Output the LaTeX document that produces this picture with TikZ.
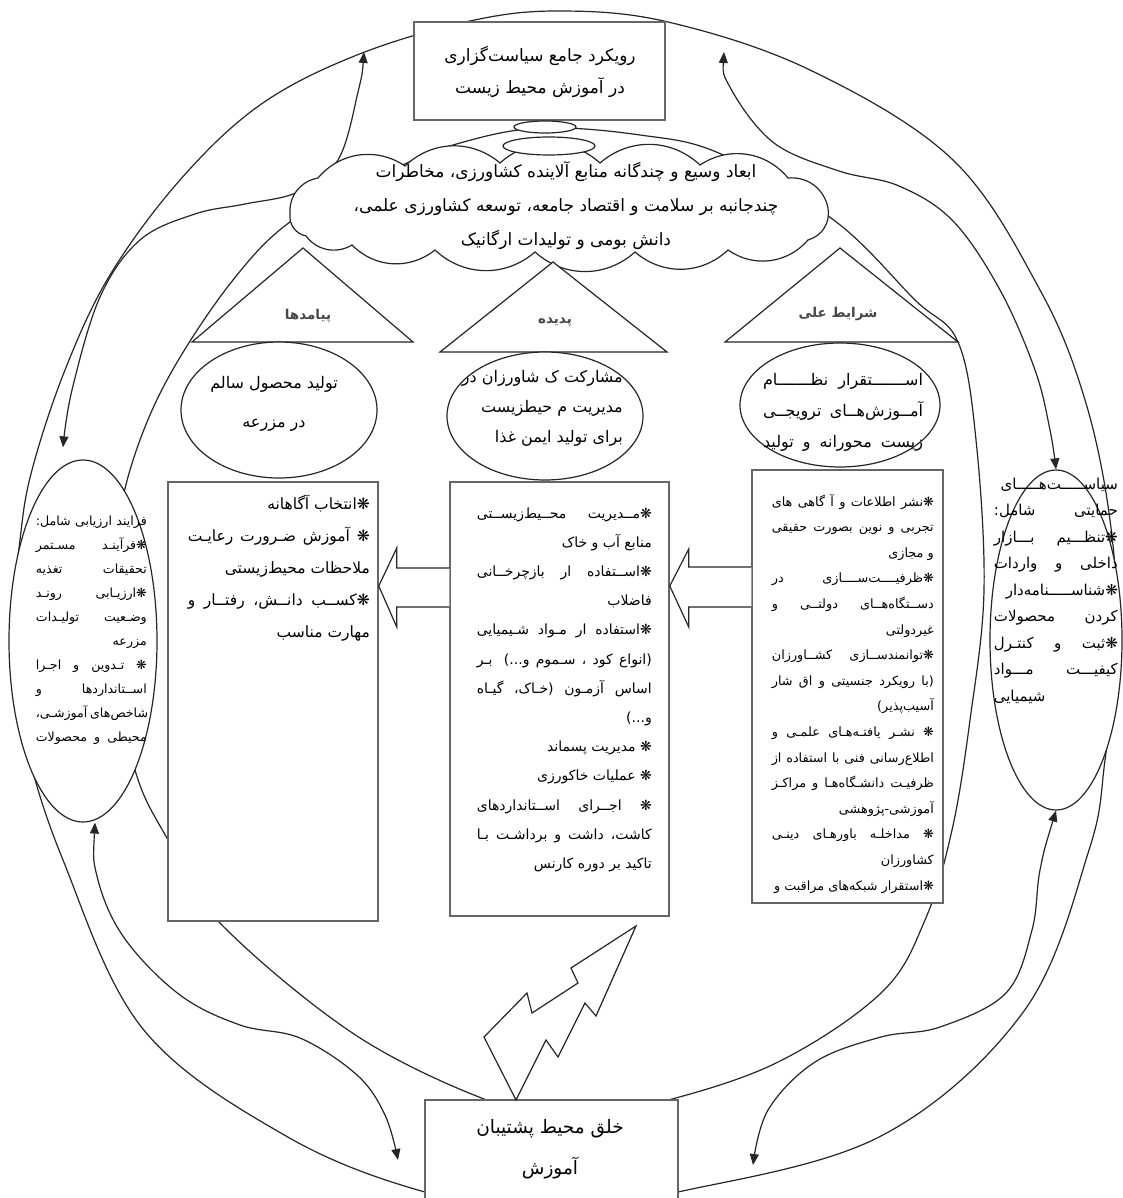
\documentclass[tikz,border=0pt]{standalone}
\usepackage{fontspec}
\usetikzlibrary{shapes.geometric,arrows.meta,calc}
\newfontfamily\arabicfont[Script=Arabic]{DejaVu Sans}
\TeXXeTstate=1
\newcommand\blk[2]{\vtop{\hsize=#1\relax\parindent=0pt\relax #2}}
\newcommand\JL[1]{\hbox to \hsize{\hskip 0pt plus 0.01pt\relax\beginR #1\endR}}
\newcommand\RL[1]{\hbox to \hsize{\hfil\beginR #1\endR}}
\newcommand\CL[1]{\hbox to \hsize{\hfil\beginR #1\endR\hfil}}
\newcommand\LL[1]{\hbox to \hsize{\beginR #1\endR\hfil}}
\newcommand\fsz[2]{\arabicfont\fontsize{#1pt}{#2pt}\selectfont}
\pgfdeclarelayer{bg}
\pgfsetlayers{bg,main}
\begin{document}
\begin{tikzpicture}[x=1pt,y=-1pt,
  ln/.style={draw=black!85,line width=1.2pt},
  bx/.style={draw=black!60,line width=1.5pt,fill=white,rectangle,inner sep=0pt},
  ov/.style={draw=black!85,line width=1.2pt,fill=white,ellipse,inner sep=0pt},
  tx/.style={inner sep=0pt},
  puff/.style={bend left=42},
  dbl/.style={draw=black!85,line width=1.2pt,{Triangle[width=9pt,length=11pt]}-{Triangle[width=9pt,length=11pt]}},
  lab/.style={inner sep=0pt,text=black!72,font=\arabicfont\bfseries\fontsize{13.5pt}{15pt}\selectfont}
]
\useasboundingbox (0,0) rectangle (1123,1198);

% ---------- top ----------
\node[bx,minimum width=251pt,minimum height=98pt] (topbox) at (539.5,71) {};
\node[tx,anchor=base,font=\fsz{17}{32}] (toptxt) at (540,62)
  {\blk{250pt}{\CL{رویکرد جامع سیاست‌گزاری}\CL{در آموزش محیط زیست}}};

% cloud (drawn as a puffy outline)
\draw[ln,fill=white] (290,214) to[puff] (318,178) to[puff] (405,166) to[puff] (500,163)
  to[puff] (600,163) to[puff] (700,165) to[puff] (788,178) to[puff] (828,208)
  to[puff] (808,240) to[puff] (728,250) to[puff] (635,252) to[puff] (535,252)
  to[puff] (435,250) to[puff] (352,245) to[puff] (306,236) to[puff] (290,214);
\coordinate (cloud) at (556,207);
\node[ov,minimum width=92pt,minimum height=18pt] (ovB) at (549,146) {};
\node[ov,minimum width=62pt,minimum height=12pt] (ovA) at (545,127) {};
\node[tx,anchor=base,font=\fsz{17}{34}] (cloudtxt) at (566,178)
  {\blk{470pt}{\CL{ابعاد وسیع و چندگانه منابع آلاینده کشاورزی، مخاطرات}
               \CL{چندجانبه بر سلامت و اقتصاد جامعه، توسعه کشاورزی علمی،}
               \CL{دانش بومی و تولیدات ارگانیک}}};

% ---------- triangles ----------
\draw[ln,fill=white] (192,342) -- (413,342) -- (303,248) -- cycle;
\draw[ln,fill=white] (440,352) -- (667,352) -- (553,262) -- cycle;
\draw[ln,fill=white] (725,342) -- (958,342) -- (840,248) -- cycle;
\node[lab] (labL) at (308,316) {\beginR پیامدها\endR};
\node[lab] (labM) at (555,322) {\beginR پدیده\endR};
\node[lab] (labR) at (838,314) {\beginR شرایط علی\endR};

% ---------- small ellipses ----------
\node[ov,minimum width=196pt,minimum height=136pt] (eL) at (279,410) {};
\node[tx,anchor=base,font=\fsz{16}{39}] (eLtxt) at (274,388)
  {\blk{180pt}{\CL{تولید محصول سالم}\CL{در مزرعه}}};
\node[ov,minimum width=196pt,minimum height=128pt] (eM) at (545,416) {};
\node[tx,anchor=base east,font=\fsz{16}{30}] (eMtxt) at (623,382)
  {\blk{170pt}{\RL{مشارکت ک شاورزان در}\RL{مدیریت م حیطزیست}\RL{برای تولید ایمن غذا}}};
\node[ov,minimum width=200pt,minimum height=124pt] (eR) at (840,405) {};
\node[tx,anchor=base,font=\fsz{16}{31}] (eRtxt) at (843,385)
  {\blk{160pt}{\JL{اســـــــتقرار نظـــــــام}\JL{آمــوزش‌هــای ترویجــی}\JL{زیست محورانه و تولید}}};

% ---------- boxes ----------
\node[bx,minimum width=210pt,minimum height=439pt] (lbox) at (273,701.5) {};
\node[bx,minimum width=219pt,minimum height=434pt] (mbox) at (559.5,699) {};
\node[bx,minimum width=191pt,minimum height=433pt] (rbox) at (847.5,686.5) {};

\node[tx,anchor=base east,font=\fsz{15.5}{32}] (lboxtxt) at (370,509)
  {\blk{182pt}{\RL{❋انتخاب آگاهانه}
               \JL{❋ آموزش ضـرورت رعایـت}
               \RL{ملاحظات محیط‌زیستی}
               \JL{❋کســب دانــش، رفتــار و}
               \RL{مهارت مناسب}}};
\node[tx,anchor=base east,font=\fsz{14}{29.2}] (mboxtxt) at (652,518)
  {\blk{175pt}{\JL{❋مــدیریت محــیط‌زیســتی}
               \RL{منابع آب و خاک}
               \JL{❋اســتفاده ار بازچرخــانی}
               \RL{فاضلاب}
               \JL{❋استفاده ار مـواد شـیمیایی}
               \JL{(انواع کود ، سـموم و...) بـر}
               \JL{اساس آزمـون (خـاک، گیـاه}
               \RL{و...)}
               \RL{❋ مدیریت پسماند}
               \RL{❋ عملیات خاکورزی}
               \JL{❋ اجــرای اســتانداردهای}
               \JL{کاشت، داشت و برداشـت بـا}
               \RL{تاکید بر دوره کارنس}}};
\node[tx,anchor=base east,font=\fsz{12.8}{25.6}] (rboxtxt) at (934,506)
  {\blk{162pt}{\JL{❋نشر اطلاعات و آ گاهی های}
               \JL{تجربی و نوین بصورت حقیقی}
               \RL{و مجازی}
               \JL{❋ظرفیــــت‌ســــازی در}
               \JL{دســتگاه‌هــای دولتــی و}
               \RL{غیردولتی}
               \JL{❋توانمندســازی کشــاورزان}
               \JL{(با رویکرد جنسیتی و اق شار}
               \RL{آسیب‌پذیر)}
               \JL{❋ نشـر یافتـه‌هـای علمـی و}
               \JL{اطلاع‌رسانی فنی با استفاده از}
               \JL{ظرفیـت دانشـگاه‌هـا و مراکـز}
               \RL{آموزشی-پژوهشی}
               \JL{❋ مداخلـه باورهـای دینـی}
               \RL{کشاورزان}
               \RL{❋استقرار شبکه‌های مراقبت و}}};

% ---------- side ellipses ----------
\node[ov,minimum width=148pt,minimum height=362pt] (lell) at (83,641) {};
\node[tx,anchor=base east,font=\fsz{12.6}{24}] (lelltxt) at (147,525)
  {\blk{111pt}{\JL{فرایند ارزیابی شامل:}
               \JL{❋فرآینـد مسـتمر}
               \JL{تحقیقات تغذیه}
               \JL{❋ارزیـابی رونـد}
               \JL{وضـعیت تولیـدات}
               \RL{مزرعه}
               \JL{❋ تـدوین و اجـرا}
               \JL{اســتانداردها و}
               \JL{شاخص‌های آموزشـی،}
               \JL{محیطی و محصولات}}};
\node[ov,minimum width=132pt,minimum height=340pt] (rell) at (1056,640) {};
\node[tx,anchor=base east,font=\fsz{15}{26.5}] (relltxt) at (1118,489)
  {\blk{124pt}{\RL{سیاســـــت‌هـــــای}
               \JL{حمایتی شامل:}
               \JL{❋تنظـــیم بـــازار}
               \JL{داخلی و واردات}
               \RL{❋شناســـــنامه‌دار}
               \JL{کردن محصولات}
               \JL{❋ثبت و کنتـرل}
               \JL{کیفیـــت مـــواد}
               \LL{شیمیایی}}};

% ---------- bottom ----------
\node[bx,minimum width=253pt,minimum height=130pt] (botbox) at (551.5,1165) {};
\node[tx,anchor=base,font=\fsz{18.5}{41}] (bottxt) at (550,1133)
  {\blk{240pt}{\CL{خلق محیط پشتیبان}\CL{آموزش}}};

% lightning
\draw[ln,fill=white] (636,926) -- (596,1016) -- (585,1003) -- (558,1057) -- (546,1040)
  -- (516,1100) -- (484,1037) -- (527,993) -- (532,1013) -- (578,983) -- (571,968) -- cycle;

% block arrows
\draw[ln,fill=white] (mbox.west |- 0,568) -- ($(lbox.east |- 0,568)+(18,0)$)
  -- ($(lbox.east |- 0,548)+(18,0)$) -- (lbox.east |- 0,586)
  -- ($(lbox.east |- 0,627)+(18,0)$) -- ($(lbox.east |- 0,607)+(18,0)$) -- (mbox.west |- 0,607);
\draw[ln,fill=white] (rbox.west |- 0,567) -- ($(mbox.east |- 0,567)+(19,0)$)
  -- ($(mbox.east |- 0,549)+(19,0)$) -- (mbox.east |- 0,586)
  -- ($(mbox.east |- 0,627)+(19,0)$) -- ($(mbox.east |- 0,607)+(19,0)$) -- (rbox.west |- 0,607);

% ---------- connectors on background ----------
\coordinate (tlA) at (364,52);
\coordinate (tlB) at ($(lell.north)+(-20,-12)$);
\coordinate (trA) at (724,52);
\coordinate (trB) at (rell.north);
\coordinate (blA) at (398,1160);
\coordinate (blB) at ($(lell.south)+(12,0)$);
\coordinate (brA) at (753,1165);
\coordinate (brB) at (rell.south);

\begin{pgfonlayer}{bg}
\fill[white] (0,0) rectangle (1123,1198);
% outer ring
\draw[ln] plot[smooth cycle,tension=0.6] coordinates {
  (560,11) (668,22) (810,70) (953,160) (1040,290) (1085,400) (1110,520) (1117,640)
  (1105,760) (1089,850) (1024,1011) (881,1136) (678,1192) (550,1210) (425,1192)
  (286,1136) (143,1029) (63,860) (25,740) (12,640) (20,540) (32,470) (65,370)
  (110,275) (180,180) (260,105) (357,55) (470,21)};
% inner ring
\draw[ln] plot[smooth cycle,tension=0.6] coordinates {
  (540,128) (640,135) (721,154) (835,221) (915,300) (958,342) (976,440) (984,590)
  (970,720) (952,830) (925,920) (881,993) (774,1064) (649,1105) (575,1115) (500,1105)
  (357,1036) (218,921) (168,840) (135,770) (113,650) (116,550) (130,470) (167,380)
  (233,280) (297,217) (396,168) (460,143)};
% double-headed S-curves
\draw[dbl] plot[smooth,tension=0.6] coordinates {
  (tlA) (358,92) (338,160) (298,192) (245,204) (195,214) (140,240) (100,297) (72,390) (tlB)};
\draw[dbl] plot[smooth,tension=0.6] coordinates {
  (trA) (731,89) (774,143) (839,171) (899,186) (953,221) (1000,290) (1035,370) (1050,430) (trB)};
\draw[dbl] plot[smooth,tension=0.6] coordinates {
  (blB) (98,880) (125,939) (180,995) (240,1025) (300,1038) (357,1075) (385,1115) (blA)};
\draw[dbl] plot[smooth,tension=0.6] coordinates {
  (brB) (1040,870) (1032,930) (1006,993) (940,1027) (881,1037) (815,1062) (768,1110) (brA)};
\end{pgfonlayer}
\end{tikzpicture}
\end{document}
